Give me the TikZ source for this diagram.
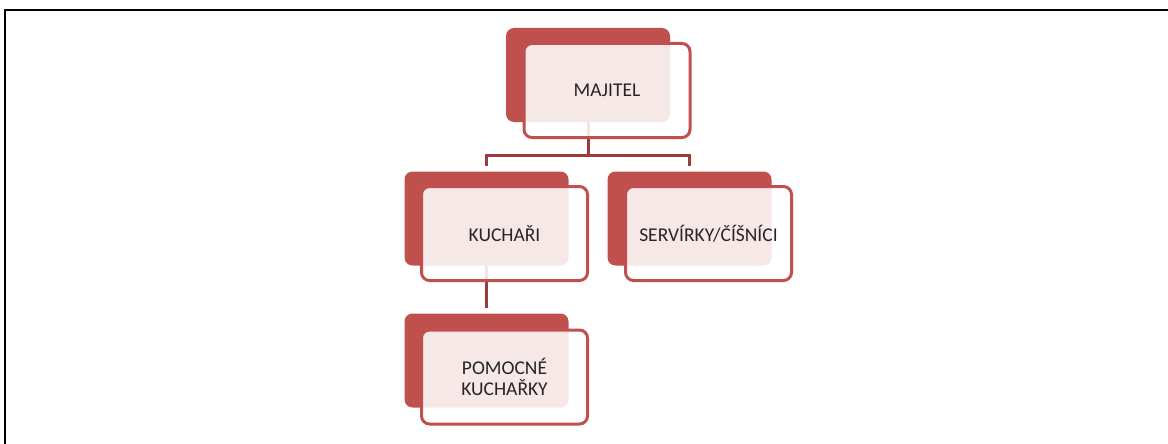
\documentclass[tikz,border=0pt]{standalone}
\usepackage{fontspec}
\setmainfont{Carlito}
\usetikzlibrary{positioning}
\definecolor{boxred}{HTML}{C0504D}
\definecolor{linered}{HTML}{9B3B3B}
\begin{document}
\begin{tikzpicture}[x=1pt, y=-1pt,
    back/.style={fill=boxred, rounded corners=8pt, minimum width=164pt, minimum height=94pt, inner sep=0pt},
    front/.style={draw=boxred, line width=3pt, fill=white, fill opacity=0.87, text opacity=1, text=black!85,
                  rounded corners=8pt, minimum width=166pt, minimum height=94pt, inner sep=0pt,
                  align=center, font=\fontsize{19.5}{21}\selectfont},
    conn/.style={draw=linered, line width=3pt, shorten >=5pt}]
    \useasboundingbox (0,0) rectangle (1168,444);
    \draw[line width=2pt] (5,444) -- (5,10) -- (1168,10);

    % back boxes
    \node[back] (majitelbg) at (588,75) {};
    \node[back] (kucharibg) at (486.5,218.5) {};
    \node[back] (servirkybg) at (689.5,218.5) {};
    \node[back] (pomocnebg) at (486.5,360.5) {};

    % connectors
    \draw[conn] (majitelbg.south) -- ++(0,33) -| (kucharibg.north);
    \draw[conn] (majitelbg.south) -- ++(0,33) -| (servirkybg.north);
    \draw[conn] (kucharibg.south) -- (pomocnebg.north);

    % front boxes
    \node[front] (majitel) at ([shift={(19,15.5)}]majitelbg.center) {MAJITEL};
    \node[front] (kuchari) at ([shift={(18,15)}]kucharibg.center) {KUCHAŘI};
    \node[front] (servirky) at ([shift={(19,15)}]servirkybg.center) {SERVÍRKY/ČÍŠNÍCI};
    \node[front] (pomocne) at ([shift={(18,16.5)}]pomocnebg.center) {POMOCNÉ\\KUCHAŘKY};
\end{tikzpicture}
\end{document}
